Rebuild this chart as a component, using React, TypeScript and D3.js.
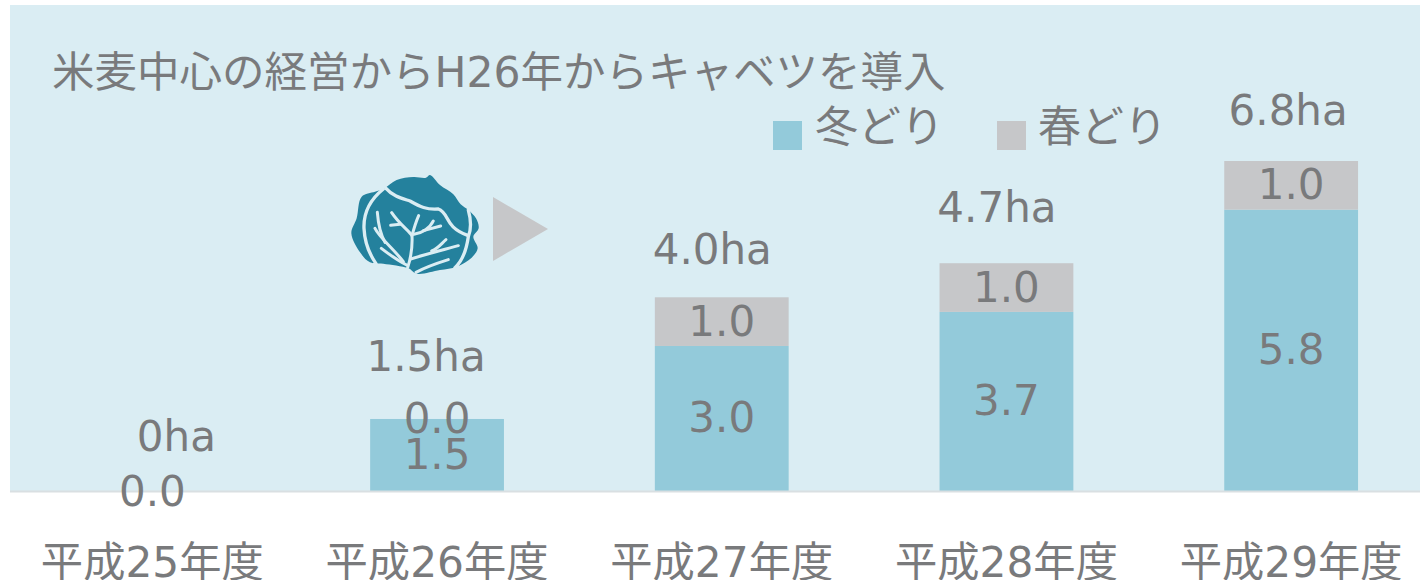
import React from "react";
import * as d3 from "d3";

const years = ["平成25年度", "平成26年度", "平成27年度", "平成28年度", "平成29年度"];
const winter = [0, 1.5, 3.0, 3.7, 5.8];
const spring = [0, 0, 1.0, 1.0, 1.0];
const totals = ["0ha", "1.5ha", "4.0ha", "4.7ha", "6.8ha"];
const titleText = "米麦中心の経営からH26年からキャベツを導入";
const legendNames = ["冬どり", "春どり"];

const W = 1420, H = 580;
const FONT = "'DejaVu Sans','Noto Sans CJK JP',sans-serif";
const TEXT = "#797a7c", WINTER = "#93cada", SPRING = "#c6c7c9", BG = "#daedf3";
const FS = 42;

// Hand placement of the total labels relative to their stacks (dx, dy above the top)
const totalNudge: [number, number][] = [[24, 56], [-11, 63], [-9.5, 48], [-9.5, 56], [-3, 51]];

const x = d3.scaleBand<string>().domain(years).range([10, 1433.5]).paddingInner(0.53).paddingOuter(0.265);
const y = d3.scaleLinear().domain([0, 6.8]).range([492, 161]);

// Cabbage silhouette, traced in a 3x drawing space
const cabbageOutline: [number, number][] = [
  [270, 30], [300, 60], [340, 88], [362, 118], [385, 135], [408, 160], [416, 190], [400, 215], [413, 250],
  [395, 278], [350, 305], [300, 315], [230, 326], [205, 310], [130, 296], [90, 292], [60, 262], [34, 205],
  [50, 160], [65, 95], [105, 80], [130, 72], [170, 45], [220, 36], [258, 38],
];
const cabbageVeins = [
  "M130 72 C95 100 70 140 72 190 C74 230 90 270 108 296",
  "M138 70 C160 95 185 100 210 108 C240 125 260 135 295 132 C330 145 310 185 385 212",
  "M385 135 C392 160 395 190 385 215 C380 250 370 285 345 308",
  "M203 308 C212 280 218 250 216 212 C205 195 180 180 155 143",
  "M216 212 C222 190 228 170 236 152",
  "M180 178 L152 181",
  "M222 208 C245 205 270 190 280 168",
  "M250 197 L302 183",
  "M212 282 C250 270 290 260 355 242",
  "M275 258 C295 250 305 235 318 224",
  "M200 300 C170 285 150 270 124 250",
  "M190 290 C160 250 120 220 105 190",
  "M135 232 C120 205 115 180 112 142",
  "M228 322 C260 305 290 295 325 284",
];
const blob = d3.line().curve(d3.curveCatmullRomClosed.alpha(0.5));

export default function App() {
  const labelCenters = years.map((c) => (x(c) as number) + x.bandwidth() / 2);
  return (
    <svg width={W} height={H} viewBox={`0 0 ${W} ${H}`}
      style={{ position: "absolute", left: 0, top: 0, display: "block" }} fontFamily={FONT} fontSize={FS} fill={TEXT}>
      <rect x={0} y={0} width={W} height={H} fill="#ffffff" />
      <rect x={10} y={5} width={W - 10} height={486} fill={BG} />

      <text x={52} y={87} fontSize={42.5}>{titleText}</text>

      <rect x={773} y={121} width={29} height={29} fill={WINTER} />
      <text x={815} y={142} fontSize={43}>{legendNames[0]}</text>
      <rect x={997} y={121} width={29} height={29} fill={SPRING} />
      <text x={1038} y={142} fontSize={43}>{legendNames[1]}</text>

      <g transform="translate(340,165) scale(0.3333)">
        <path d={blob(cabbageOutline) as string} fill="#24819d" />
        {cabbageVeins.map((d, i) => (
          <path key={i} d={d} fill="none" stroke={BG} strokeWidth={i < 3 ? 10 : 9} strokeLinecap="round" />
        ))}
      </g>
      <path d={d3.line()([[493, 197], [548, 229], [493, 261]]) + "Z"} fill={SPRING} />

      {years.map((c, i) => {
        const bx = x(c) as number;
        const top = y(winter[i] + spring[i]);
        return (
          <g key={c}>
            {winter[i] > 0 && <rect x={bx} y={y(winter[i])} width={x.bandwidth()} height={y(0) - y(winter[i])} fill={WINTER} />}
            {spring[i] > 0 && <rect x={bx} y={top} width={x.bandwidth()} height={y(winter[i]) - top} fill={SPRING} />}
          </g>
        );
      })}
      <line x1={10} x2={W} y1={491.5} y2={491.5} stroke="#d9dfe2" strokeWidth={2} />

      {years.map((c, i) => {
        const cx = labelCenters[i];
        const top = y(winter[i] + spring[i]);
        return (
          <g key={c}>
            <text x={cx} y={(y(0) + y(winter[i])) / 2 + 13.5} textAnchor="middle">{winter[i].toFixed(1)}</text>
            {i > 0 && <text x={cx} y={(y(winter[i]) + top) / 2 + 14} textAnchor="middle">{spring[i].toFixed(1)}</text>}
            <text x={cx + totalNudge[i][0]} y={top - totalNudge[i][1] + 15} textAnchor="middle">{totals[i]}</text>
            <text x={cx} y={577} textAnchor="middle" fontSize={42.3}>{c}</text>
          </g>
        );
      })}
    </svg>
  );
}
